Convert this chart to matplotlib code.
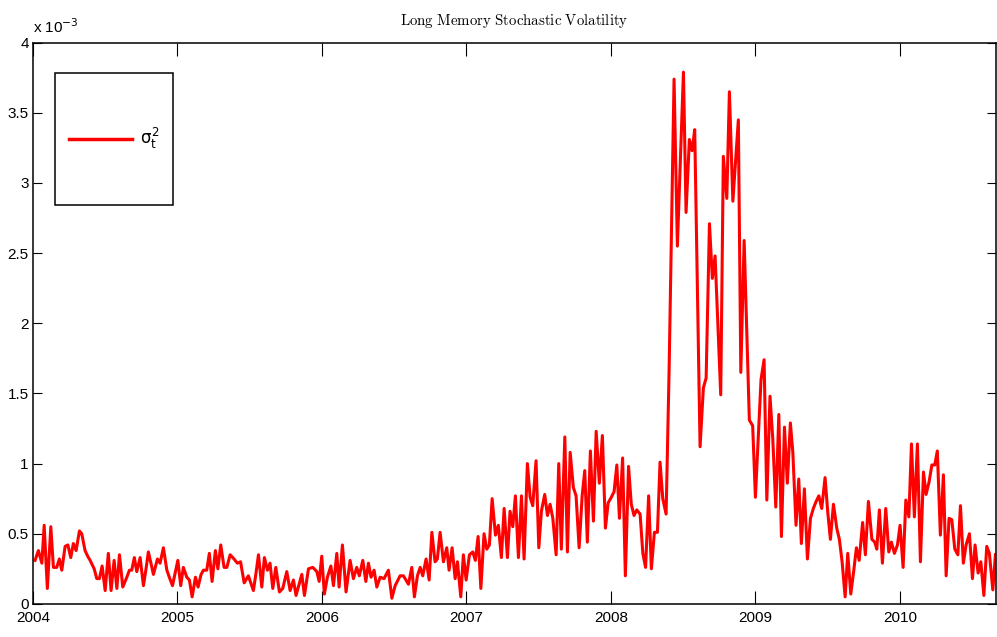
import numpy as np
import matplotlib
matplotlib.use('Agg')
from matplotlib import pyplot as plt
from matplotlib.patches import Rectangle
from matplotlib.lines import Line2D

# weekly variance estimate, years after 2004 and values in units of 1e-3
t = [0.015, 0.038, 0.062, 0.078, 0.100, 0.124, 0.142, 0.165, 0.183, 0.200,
     0.223, 0.242, 0.262, 0.280, 0.299, 0.322, 0.338, 0.361, 0.379, 0.396,
     0.424, 0.442, 0.460, 0.479, 0.500, 0.522, 0.541, 0.562, 0.581, 0.599,
     0.622, 0.650, 0.668, 0.684, 0.702, 0.719, 0.742, 0.765, 0.783, 0.799,
     0.817, 0.834, 0.862, 0.880, 0.903, 0.927, 0.944, 0.966, 1.003, 1.023,
     1.041, 1.065, 1.083, 1.102, 1.125, 1.143, 1.164, 1.180, 1.203, 1.221,
     1.240, 1.263, 1.280, 1.300, 1.323, 1.342, 1.365, 1.392, 1.415, 1.437,
     1.462, 1.491, 1.526, 1.544, 1.561, 1.584, 1.602, 1.623, 1.641, 1.660,
     1.681, 1.706, 1.729, 1.757, 1.780, 1.803, 1.821, 1.842, 1.861, 1.879,
     1.907, 1.937, 1.965, 1.981, 1.999, 2.017, 2.038, 2.062, 2.080, 2.103,
     2.119, 2.142, 2.167, 2.195, 2.218, 2.241, 2.259, 2.283, 2.304, 2.322,
     2.340, 2.361, 2.380, 2.403, 2.430, 2.460, 2.484, 2.507, 2.541, 2.564,
     2.599, 2.622, 2.640, 2.661, 2.680, 2.698, 2.721, 2.742, 2.761, 2.783,
     2.799, 2.818, 2.841, 2.864, 2.880, 2.901, 2.922, 2.938, 2.961, 2.979,
     2.998, 3.021, 3.044, 3.062, 3.081, 3.100, 3.122, 3.141, 3.159, 3.178,
     3.201, 3.221, 3.242, 3.261, 3.284, 3.302, 3.321, 3.339, 3.360, 3.381,
     3.399, 3.422, 3.441, 3.459, 3.482, 3.501, 3.519, 3.542, 3.561, 3.579,
     3.598, 3.621, 3.639, 3.657, 3.681, 3.699, 3.718, 3.740, 3.759, 3.780,
     3.801, 3.819, 3.837, 3.858, 3.879, 3.898, 3.920, 3.941, 3.962, 3.981,
     4.003, 4.022, 4.041, 4.059, 4.081, 4.100, 4.122, 4.141, 4.160, 4.179,
     4.202, 4.221, 4.240, 4.261, 4.280, 4.301, 4.322, 4.340, 4.359, 4.382,
     4.403, 4.437, 4.460, 4.502, 4.520, 4.543, 4.562, 4.580, 4.617, 4.640,
     4.659, 4.682, 4.702, 4.721, 4.760, 4.778, 4.802, 4.820, 4.844, 4.882,
     4.899, 4.922, 4.958, 4.981, 5.000, 5.039, 5.060, 5.079, 5.101, 5.120,
     5.141, 5.162, 5.180, 5.201, 5.221, 5.242, 5.259, 5.281, 5.300, 5.318,
     5.339, 5.360, 5.381, 5.401, 5.420, 5.439, 5.459, 5.482, 5.501, 5.519,
     5.540, 5.563, 5.581, 5.600, 5.621, 5.639, 5.660, 5.681, 5.699, 5.718,
     5.742, 5.761, 5.782, 5.806, 5.826, 5.840, 5.858, 5.879, 5.902, 5.923,
     5.941, 5.962, 5.983, 6.001, 6.022, 6.041, 6.062, 6.080, 6.100, 6.121,
     6.142, 6.163, 6.181, 6.202, 6.221, 6.241, 6.259, 6.280, 6.301, 6.320,
     6.340, 6.359, 6.380, 6.401, 6.419, 6.439, 6.458, 6.481, 6.502, 6.520,
     6.541, 6.560, 6.581, 6.601, 6.619, 6.643, 6.661]

vol = [0.31, 0.38, 0.29, 0.56, 0.11, 0.55, 0.26, 0.26, 0.32, 0.24,
       0.41, 0.42, 0.33, 0.43, 0.38, 0.52, 0.50, 0.38, 0.34, 0.31,
       0.25, 0.18, 0.18, 0.27, 0.095, 0.36, 0.095, 0.31, 0.11, 0.35,
       0.12, 0.19, 0.24, 0.24, 0.33, 0.23, 0.33, 0.13, 0.25, 0.37,
       0.29, 0.21, 0.32, 0.29, 0.40, 0.24, 0.19, 0.13, 0.31, 0.13,
       0.26, 0.19, 0.17, 0.05, 0.19, 0.12, 0.21, 0.24, 0.24, 0.36,
       0.16, 0.38, 0.25, 0.42, 0.26, 0.26, 0.35, 0.32, 0.29, 0.30,
       0.15, 0.20, 0.095, 0.22, 0.35, 0.12, 0.33, 0.24, 0.29, 0.11,
       0.26, 0.085, 0.11, 0.23, 0.095, 0.17, 0.06, 0.14, 0.21, 0.06,
       0.25, 0.26, 0.23, 0.16, 0.34, 0.07, 0.19, 0.27, 0.13, 0.36,
       0.12, 0.42, 0.085, 0.31, 0.18, 0.26, 0.20, 0.31, 0.16, 0.29,
       0.19, 0.24, 0.12, 0.19, 0.18, 0.24, 0.04, 0.13, 0.20, 0.20,
       0.14, 0.26, 0.05, 0.20, 0.26, 0.20, 0.32, 0.17, 0.51, 0.30,
       0.32, 0.51, 0.30, 0.40, 0.24, 0.40, 0.18, 0.30, 0.05, 0.35,
       0.17, 0.35, 0.37, 0.31, 0.48, 0.11, 0.50, 0.39, 0.42, 0.75,
       0.49, 0.56, 0.33, 0.68, 0.33, 0.66, 0.55, 0.77, 0.33, 0.77,
       0.32, 1.00, 0.76, 0.70, 1.02, 0.40, 0.66, 0.78, 0.63, 0.71,
       0.61, 0.35, 1.00, 0.39, 1.19, 0.37, 1.08, 0.83, 0.77, 0.40,
       0.77, 0.95, 0.44, 1.09, 0.59, 1.23, 0.86, 1.20, 0.54, 0.72,
       0.76, 0.80, 0.99, 0.61, 1.04, 0.20, 0.98, 0.71, 0.63, 0.67,
       0.64, 0.36, 0.26, 0.77, 0.25, 0.51, 0.51, 1.01, 0.75, 0.64,
       1.68, 3.74, 2.55, 3.79, 2.79, 3.31, 3.23, 3.38, 1.12, 1.54,
       1.61, 2.71, 2.32, 2.48, 1.49, 3.19, 2.89, 3.65, 2.87, 3.45,
       1.65, 2.59, 1.31, 1.27, 0.76, 1.60, 1.74, 0.74, 1.48, 1.18,
       0.69, 1.35, 0.48, 1.26, 0.86, 1.29, 1.08, 0.56, 0.89, 0.43,
       0.82, 0.32, 0.61, 0.68, 0.73, 0.77, 0.68, 0.90, 0.65, 0.46,
       0.71, 0.54, 0.46, 0.30, 0.05, 0.36, 0.07, 0.24, 0.40, 0.31,
       0.58, 0.35, 0.73, 0.46, 0.44, 0.39, 0.67, 0.29, 0.68, 0.37,
       0.44, 0.36, 0.42, 0.56, 0.26, 0.74, 0.62, 1.14, 0.62, 1.14,
       0.30, 0.94, 0.78, 0.87, 0.99, 0.99, 1.09, 0.49, 0.92, 0.20,
       0.61, 0.60, 0.39, 0.35, 0.70, 0.29, 0.42, 0.50, 0.18, 0.42,
       0.22, 0.30, 0.06, 0.41, 0.36, 0.10, 0.35]

years = [2004, 2005, 2006, 2007, 2008, 2009, 2010]
yticks = [0, 0.5, 1, 1.5, 2, 2.5, 3, 3.5, 4]
ytick_labels = ['0', '0.5', '1', '1.5', '2', '2.5', '3', '3.5', '4']

plt.rcParams['font.family'] = ['Liberation Sans Narrow', 'Liberation Sans', 'DejaVu Sans']
plt.rcParams['mathtext.fontset'] = 'custom'
plt.rcParams['mathtext.rm'] = 'Liberation Sans Narrow'
plt.rcParams['mathtext.it'] = 'Liberation Sans Narrow'

fig = plt.figure(figsize=(9.97, 6.37), dpi=100)
ax = fig.add_axes([0.033, 0.052, 0.966, 0.881])

x = 2004 + np.array(t)
ax.plot(x, vol, color='red', linewidth=2.2)

ax.set_xlim(2004, 2010.665)
ax.set_ylim(0, 4)
ax.set_xticks(years)
ax.set_xticklabels([str(y) for y in years])
ax.set_yticks(yticks)
ax.set_yticklabels(ytick_labels)
ax.tick_params(axis='x', direction='in', length=9.5, width=0.8, top=True,
               labelsize=11, pad=5)
ax.tick_params(axis='y', direction='in', length=6.5, width=0.8, right=True,
               labelsize=11, pad=3)
for s in ax.spines.values():
    s.set_linewidth(1.1)

ax.text(0.0, 1.012, r'x 10$^{-3}$', transform=ax.transAxes, fontsize=11,
        ha='left', va='bottom')

ax.set_title(r'$\mathrm{Long\ Memory\ Stochastic\ Volatility}$',
             math_fontfamily='cm', fontsize=10.7, pad=13)

# legend drawn by hand, MATLAB style box
ax.add_patch(Rectangle((0.0228, 0.7112), 0.1226, 0.2353, transform=ax.transAxes,
                       facecolor='white', edgecolor='black', linewidth=1.1, zorder=5))
ax.add_line(Line2D([0.0374, 0.1028], [0.8289, 0.8289], transform=ax.transAxes,
                   color='red', linewidth=2.5, zorder=6))
ax.text(0.111, 0.8289, r'$\sigma_t^2$', transform=ax.transAxes, fontsize=12,
        ha='left', va='center', zorder=6)

fig.savefig('out.png', dpi=100)
